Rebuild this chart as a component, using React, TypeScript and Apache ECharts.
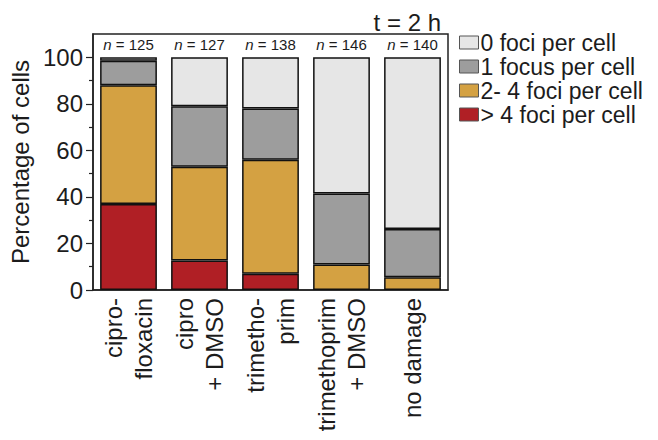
import React, { useEffect, useRef } from "react";
import * as echarts from "echarts";

// Treatments (x categories), two-line labels drawn rotated under each bar
const categories = [
  "cipro-\nfloxacin",
  "cipro\n+ DMSO",
  "trimetho-\nprim",
  "trimethoprim\n+ DMSO",
  "no damage",
];

// Cell counts per treatment
const cellCounts = [125, 127, 138, 146, 140];

// Percentage of cells in each foci class, per treatment
const moreThan4Foci = [37, 12.7, 7, null, null];
const twoToFourFoci = [51, 40.3, 49, 11, 5.5];
const oneFocus = [10.5, 26, 22, 30.5, 20.7];
const zeroFoci = [1.5, 21, 22, 58.5, 73.8];

const seriesNames = [
  "> 4 foci per cell",
  "2- 4 foci per cell",
  "1 focus per cell",
  "0 foci per cell",
];
const legendOrder = [
  "0 foci per cell",
  "1 focus per cell",
  "2- 4 foci per cell",
  "> 4 foci per cell",
];

const majorTicks = [0, 20, 40, 60, 80, 100];
const minorTicks = [10, 30, 50, 70, 90];

const FONT = "'Liberation Sans', Arial, Helvetica, sans-serif";
const INK = "#1c1c1c";

export default function App() {
  const ref = useRef<HTMLDivElement>(null);

  useEffect(() => {
    if (!ref.current) return;
    const chart = echarts.init(ref.current, null, { renderer: "svg" });

    const colors = ["#b01f25", "#d4a142", "#9d9d9d", "#e6e6e6"];
    const datasets = [moreThan4Foci, twoToFourFoci, oneFocus, zeroFoci];

    const series: any[] = datasets.map((d, i) => ({
      name: seriesNames[i],
      type: "bar",
      stack: "total",
      data: d,
      barCategoryGap: "20%",
      itemStyle: {
        color: colors[i],
        borderColor: "#111",
        borderWidth: 1.5,
      },
      label:
        i === 3
          ? {
              show: true,
              position: "top",
              distance: 5,
              fontFamily: FONT,
              fontSize: 15,
              color: INK,
              formatter: (p: any) => `{it|n} = ${cellCounts[p.dataIndex]}`,
              rich: {
                it: { fontStyle: "italic", fontFamily: FONT, fontSize: 15, color: INK },
              },
            }
          : { show: false },
    }));

    chart.setOption({
      animation: false,
      textStyle: { fontFamily: FONT },
      title: {
        text: "t = 2 h",
        right: 212,
        top: 5,
        textStyle: { fontFamily: FONT, fontSize: 24, fontWeight: "normal", color: INK },
      },
      legend: {
        data: legendOrder,
        orient: "vertical",
        left: 454,
        top: 26,
        itemWidth: 19,
        itemHeight: 13,
        itemGap: 1,
        icon: "rect",
        textStyle: { fontFamily: FONT, fontSize: 23, color: INK, lineHeight: 22, padding: [0, 0, 0, -3] },
        itemStyle: { borderColor: "#555", borderWidth: 1 },
      },
      grid: {
        left: 93,
        right: 210,
        top: 34,
        bottom: 150,
        show: true,
        borderColor: "#222",
        borderWidth: 1.5,
        backgroundColor: "transparent",
      },
      xAxis: {
        type: "category",
        data: categories,
        axisLine: { show: true, lineStyle: { color: "#222", width: 1.5 } },
        axisTick: { show: false },
        axisLabel: {
          rotate: 90,
          margin: 8,
          fontFamily: FONT,
          fontSize: 24,
          lineHeight: 30,
          color: INK,
        },
      },
      yAxis: [
        {
          type: "value",
          min: 0,
          max: 110,
          name: "Percentage of cells",
          nameLocation: "middle",
          nameGap: 60,
          nameTextStyle: { fontFamily: FONT, fontSize: 24, color: INK },
          axisLine: { show: true, lineStyle: { color: "#222", width: 1.5 } },
          axisTick: {
            show: true,
            length: 7,
            customValues: majorTicks,
            lineStyle: { color: "#222", width: 1.2 },
          },
          axisLabel: {
            customValues: majorTicks,
            margin: 10,
            fontFamily: FONT,
            fontSize: 24,
            color: INK,
          },
          splitLine: { show: false },
        },
        {
          type: "value",
          min: 0,
          max: 110,
          position: "left",
          axisLine: { show: false },
          axisTick: {
            show: true,
            length: 4,
            customValues: minorTicks,
            lineStyle: { color: "#222", width: 1.2 },
          },
          axisLabel: { show: false },
          splitLine: { show: false },
        },
      ],
      series,
    });

    return () => chart.dispose();
  }, []);

  return <div ref={ref} style={{ width: 658, height: 440, margin: -8 }} />;
}
